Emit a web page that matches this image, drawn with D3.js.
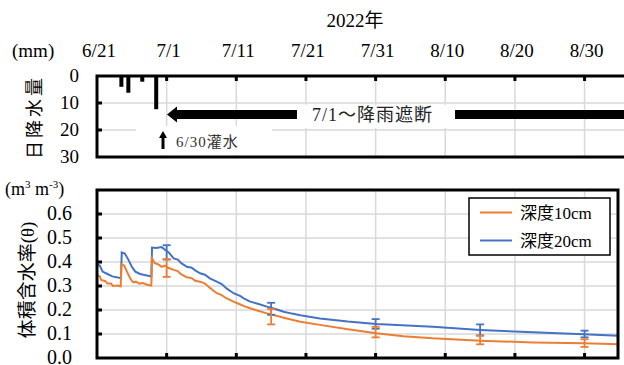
<!DOCTYPE html>
<html>
<head>
<meta charset="utf-8">
<script src="https://cdn.jsdelivr.net/npm/d3@7"></script>
<style>
  body { margin: 0; background: #fff; }
  svg text { font-family: "Liberation Serif", "Times New Roman", "Noto Sans CJK JP", serif; }
</style>
</head>
<body>
<div id="chart-area"></div>
<script>
// days counted from 6/21
var tickDays = [0, 10, 20, 30, 40, 50, 60, 70];
var tickLabels = ["6/21", "7/1", "7/11", "7/21", "7/31", "8/10", "8/20", "8/30"];

// daily rain (mm), bar sits in the middle of its day
var rainDays = [3, 4, 6, 8];
var rainMm = [4, 6.2, 2.1, 12.3];

// volumetric water content, [day, theta]
var depth10 = [
	[0, 0.346], [0.4, 0.34], [0.6, 0.325], [1.2, 0.32], [1.5, 0.31], [2.0, 0.31], [2.3, 0.30],
	[3.0, 0.302], [3.4, 0.298], [3.5, 0.39], [3.9, 0.385], [4.3, 0.36], [4.8, 0.33], [5.2, 0.315],
	[5.6, 0.318], [6.1, 0.31], [6.6, 0.312], [7.2, 0.305], [7.8, 0.302], [7.9, 0.415], [8.3, 0.395],
	[8.8, 0.39], [9.3, 0.38], [9.8, 0.385], [10.3, 0.375], [11.0, 0.367], [11.6, 0.362], [12.0, 0.35],
	[12.9, 0.336], [13.6, 0.333], [14.1, 0.322], [14.8, 0.318], [15.5, 0.31], [16.1, 0.295],
	[17.2, 0.27], [17.9, 0.262], [18.5, 0.25], [19.6, 0.235], [20.5, 0.224], [21.2, 0.215],
	[22.0, 0.207], [23.0, 0.198], [24.4, 0.186], [25.5, 0.178], [26.8, 0.168], [28.0, 0.159],
	[29.2, 0.151], [32.0, 0.138], [36.0, 0.12], [40.1, 0.103], [44.0, 0.091], [48.2, 0.082],
	[55.0, 0.072], [62.6, 0.065], [69.9, 0.061], [74.8, 0.057]
];
var depth20 = [
	[0, 0.39], [0.4, 0.385], [0.8, 0.36], [1.5, 0.35], [2.2, 0.34], [3.0, 0.335], [3.45, 0.333],
	[3.55, 0.44], [4.0, 0.435], [4.5, 0.41], [5.0, 0.38], [5.5, 0.36], [6.2, 0.35], [7.0, 0.345],
	[7.8, 0.34], [7.9, 0.46], [8.5, 0.458], [9.3, 0.462], [9.8, 0.45], [10.3, 0.44], [11.0, 0.415],
	[11.6, 0.41], [12.1, 0.395], [12.9, 0.38], [13.6, 0.376], [14.1, 0.365], [14.8, 0.353],
	[15.5, 0.347], [16.2, 0.332], [17.2, 0.318], [17.9, 0.308], [18.6, 0.29], [19.6, 0.27],
	[20.6, 0.258], [21.2, 0.246], [22.0, 0.235], [23.2, 0.225], [24.4, 0.214], [25.5, 0.205],
	[26.8, 0.193], [28.0, 0.185], [29.2, 0.178], [32.0, 0.165], [36.0, 0.152], [40.1, 0.142],
	[48.2, 0.13], [55.0, 0.117], [62.6, 0.107], [69.9, 0.099], [74.8, 0.093]
];

// error bars: [day, mean, half range]
var err10 = [[10, 0.375, 0.037], [25, 0.172, 0.032], [40, 0.108, 0.022], [55, 0.075, 0.018], [70, 0.062, 0.016]];
var err20 = [[10, 0.44, 0.03], [25, 0.205, 0.025], [40, 0.142, 0.02], [55, 0.117, 0.023], [70, 0.10, 0.014]];

var thetaTicks = [0, 0.1, 0.2, 0.3, 0.4, 0.5, 0.6];
var rainTicks = [0, 10, 20, 30];

var orange = "#ED7D31", blue = "#4472C4", grid = "#d9d9d9";
var serif = "'Liberation Serif', 'Times New Roman', 'Noto Sans CJK JP', serif";
var cjk = "'Noto Sans CJK JP', sans-serif";

var svg = d3.select("#chart-area").append("svg").attr("width", 624).attr("height", 365);

var left = 97, right = 618;
var x = d3.scaleLinear().domain([0, 74.8]).range([left, right]);

// ---------- top panel: rain ----------
var topY = d3.scaleLinear().domain([0, 30]).range([76, 157]);
var topRight = 660;

var tg = svg.append("g");

tg.selectAll(".vgrid").data(tickDays.slice(1).concat([80])).enter().append("line")
	.attr("x1", d => x(d)).attr("x2", d => x(d))
	.attr("y1", topY(0)).attr("y2", topY(30))
	.attr("stroke", grid).attr("stroke-width", 1.5);
tg.selectAll(".hgrid").data([10, 20]).enter().append("line")
	.attr("x1", left).attr("x2", topRight)
	.attr("y1", d => topY(d)).attr("y2", d => topY(d))
	.attr("stroke", grid).attr("stroke-width", 1.5);

// white boxes behind the annotations
tg.append("rect").attr("x", 136).attr("y", 126).attr("width", 136).attr("height", 29).attr("fill", "#fff");
tg.append("rect").attr("x", 298).attr("y", 105).attr("width", 156).attr("height", 23).attr("fill", "#fff");

tg.selectAll(".rain").data(rainDays).enter().append("rect")
	.attr("x", (d, i) => x(d + 0.5) - 2)
	.attr("y", topY(0))
	.attr("width", 4)
	.attr("height", (d, i) => topY(rainMm[i]) - topY(0))
	.attr("fill", "#000");

// frame (right side runs off the picture)
tg.append("path")
	.attr("d", "M" + topRight + "," + topY(0) + "H" + left + "V" + topY(30) + "H" + topRight)
	.attr("fill", "none").attr("stroke", "#000").attr("stroke-width", 3);

tg.selectAll(".ttick").data(tickDays.slice(1).concat([80])).enter().append("line")
	.attr("x1", d => x(d)).attr("x2", d => x(d))
	.attr("y1", topY(0)).attr("y2", topY(0) + 5)
	.attr("stroke", "#000").attr("stroke-width", 3);
tg.selectAll(".ltick").data([10, 20]).enter().append("line")
	.attr("x1", left).attr("x2", left + 5)
	.attr("y1", d => topY(d)).attr("y2", d => topY(d))
	.attr("stroke", "#000").attr("stroke-width", 3);

tg.selectAll(".xlab").data(tickDays).enter().append("text")
	.attr("x", d => x(d) + 2).attr("y", 57)
	.attr("text-anchor", "middle").attr("font-size", "19px").attr("font-family", serif)
	.text((d, i) => tickLabels[i]);

tg.selectAll(".ylab").data(rainTicks).enter().append("text")
	.attr("x", 79).attr("y", d => topY(d) + 6)
	.attr("text-anchor", "end").attr("font-size", "19px").attr("font-family", serif)
	.text(d => d);

svg.append("text").attr("x", 355).attr("y", 27).attr("text-anchor", "middle")
	.attr("font-size", "19px").attr("font-family", serif).text("2022年");
svg.append("text").attr("x", 12).attr("y", 57).attr("font-size", "19px").attr("font-family", serif).text("(mm)");
svg.append("text")
	.attr("transform", "translate(41,117) rotate(-90)")
	.attr("text-anchor", "middle").attr("font-size", "18px")
	.attr("font-family", cjk)
	.style("letter-spacing", "3px")
	.text("日降水量");

// irrigation arrow
tg.append("path")
	.attr("d", "M163,131 L167,138 L164.5,138 L164.5,149 L161.5,149 L161.5,138 L159,138 Z")
	.attr("fill", "#000");
tg.append("text").attr("x", 176).attr("y", 147)
	.attr("font-size", "15px").attr("fill", "#333")
	.attr("font-family", cjk)
	.style("letter-spacing", "1px")
	.text("6/30灌水");

// rain cut-off arrow
var ay = 114.5;
tg.append("path")
	.attr("d", "M167," + ay + " L177," + (ay - 8) + " L177," + (ay - 4.5) + " L297," + (ay - 4.5) +
		" L297," + (ay + 4.5) + " L177," + (ay + 4.5) + " L177," + (ay + 8) + " Z")
	.attr("fill", "#000");
tg.append("rect").attr("x", 455).attr("y", ay - 4.5).attr("width", topRight - 455).attr("height", 9)
	.attr("fill", "#000");
tg.append("text").attr("x", 312).attr("y", ay + 6.5)
	.attr("font-size", "18px").attr("fill", "#222")
	.attr("font-family", cjk)
	.style("letter-spacing", "1px")
	.text("7/1～降雨遮断");

// ---------- bottom panel: water content ----------
var y = d3.scaleLinear().domain([0, 0.7]).range([358, 190]);
var bot = svg.append("g");

bot.selectAll(".vgrid").data(tickDays.slice(1)).enter().append("line")
	.attr("x1", d => x(d)).attr("x2", d => x(d))
	.attr("y1", y(0)).attr("y2", y(0.7))
	.attr("stroke", grid).attr("stroke-width", 1.5);
bot.selectAll(".hgrid").data(thetaTicks.slice(1)).enter().append("line")
	.attr("x1", left).attr("x2", right)
	.attr("y1", d => y(d)).attr("y2", d => y(d))
	.attr("stroke", grid).attr("stroke-width", 1.5);

var line = d3.line().x(d => x(d[0])).y(d => y(d[1]));

function errorBars(data, color) {
	var g = bot.append("g").attr("stroke", color).attr("stroke-width", 1.8);
	data.forEach(function(d) {
		g.append("line").attr("x1", x(d[0])).attr("x2", x(d[0]))
			.attr("y1", y(d[1] - d[2])).attr("y2", y(d[1] + d[2]));
		[d[1] - d[2], d[1] + d[2]].forEach(function(v) {
			g.append("line").attr("x1", x(d[0]) - 4).attr("x2", x(d[0]) + 4)
				.attr("y1", y(v)).attr("y2", y(v));
		});
	});
}

bot.append("path").datum(depth20).attr("d", line)
	.attr("fill", "none").attr("stroke", blue).attr("stroke-width", 2);
bot.append("path").datum(depth10).attr("d", line)
	.attr("fill", "none").attr("stroke", orange).attr("stroke-width", 2);
errorBars(err20, blue);
errorBars(err10, orange);

bot.append("rect").attr("x", left).attr("y", y(0.7)).attr("width", right - left).attr("height", y(0) - y(0.7))
	.attr("fill", "none").attr("stroke", "#000").attr("stroke-width", 3);

bot.selectAll(".btick").data(tickDays.slice(1)).enter().append("line")
	.attr("x1", d => x(d)).attr("x2", d => x(d))
	.attr("y1", y(0)).attr("y2", y(0) - 5)
	.attr("stroke", "#000").attr("stroke-width", 3);
bot.selectAll(".ltick").data(thetaTicks.slice(1)).enter().append("line")
	.attr("x1", left).attr("x2", left + 5)
	.attr("y1", d => y(d)).attr("y2", d => y(d))
	.attr("stroke", "#000").attr("stroke-width", 3);

bot.selectAll(".ylab").data(thetaTicks).enter().append("text")
	.attr("x", 72).attr("y", d => y(d) + 6)
	.attr("text-anchor", "end").attr("font-size", "20px").attr("font-family", serif)
	.text(d => d.toFixed(1));

var unit = svg.append("text").attr("x", 5).attr("y", 195).attr("font-size", "18px").attr("font-family", serif);
unit.append("tspan").text("(m");
unit.append("tspan").attr("font-size", "11px").attr("dy", -7).text("3");
unit.append("tspan").attr("dy", 7).text(" m");
unit.append("tspan").attr("font-size", "11px").attr("dy", -7).text("-3");
unit.append("tspan").attr("dy", 7).text(")");

svg.append("text")
	.attr("transform", "translate(34,280) rotate(-90)")
	.attr("text-anchor", "middle").attr("font-size", "19px")
	.attr("font-family", cjk)
	.text("体積含水率(θ)");

// legend
var lg = bot.append("g");
lg.append("rect").attr("x", 469).attr("y", 198).attr("width", 141).attr("height", 57)
	.attr("fill", "#fff").attr("stroke", "#000").attr("stroke-width", 1.5);
var names = ["深度10cm", "深度20cm"], colors = [orange, blue];
names.forEach(function(n, i) {
	var ly = 212.5 + i * 28;
	lg.append("line").attr("x1", 480).attr("x2", 512).attr("y1", ly).attr("y2", ly)
		.attr("stroke", colors[i]).attr("stroke-width", 2);
	lg.append("text").attr("x", 520).attr("y", ly + 6).attr("font-size", "17px").attr("font-family", serif).text(n);
});
</script>
</body>
</html>
